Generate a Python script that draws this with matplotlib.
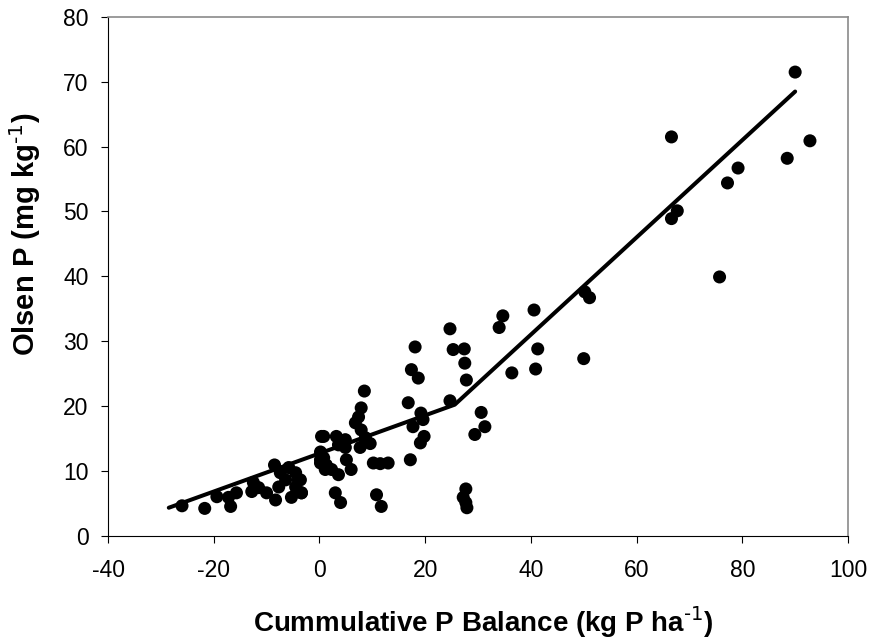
import matplotlib
matplotlib.use("Agg")
import matplotlib.pyplot as plt

plt.rcParams['font.family'] = ['Liberation Sans', 'DejaVu Sans']
plt.rcParams['axes.unicode_minus'] = False

# observed points: cumulative P balance (kg P/ha) vs Olsen P (mg/kg)
balance = [
    90.0, 92.8, 88.5, 79.2, 77.2, 66.6, 67.7, 66.6, 75.7, 50.2, 51.1,
    24.7, 34.7, 34.0, 40.6, 25.3, 27.4, 27.5, 27.8, 41.3, 40.9, 36.4, 50.0,
    24.7, 30.6, 31.3, 29.4, 27.7, 27.2, 27.7, 27.9,
    18.1, 17.4, 18.7, 16.8, 19.2, 19.6, 17.7, 19.8, 19.1, 17.2,
    8.5, 7.9, 7.4, 6.8, 7.9, 8.7, 9.6, 7.7,
    0.8, 3.2, 4.9, 3.6, 4.9, 0.2, 1.3, 2.3, 3.6, 5.1, 6.0,
    10.2, 11.5, 13.0, -3.6, -3.4, 3.0, 4.0, 10.8, 11.7,
    -26.0, -21.7, -19.4, -16.8, -17.2, -15.7, -12.8, -12.5, -11.5, -10.0, -8.3,
    -8.5, -7.4, -6.4, -7.7, -5.8, -4.5, -4.0, -4.5, -5.3, -3.4,
    0.4, 0.2, 0.2, 1.1, 0.8,
]
olsen = [
    71.5, 60.9, 58.2, 56.7, 54.4, 61.5, 50.1, 48.9, 39.9, 37.6, 36.7,
    31.9, 33.9, 32.1, 34.8, 28.7, 28.8, 26.6, 24.0, 28.8, 25.7, 25.1, 27.3,
    20.8, 19.0, 16.8, 15.6, 7.2, 5.9, 5.1, 4.3,
    29.1, 25.6, 24.3, 20.5, 18.9, 17.9, 16.8, 15.3, 14.3, 11.7,
    22.3, 19.7, 18.3, 17.4, 16.3, 15.1, 14.2, 13.6,
    15.3, 15.3, 14.8, 14.0, 13.6, 11.7, 10.9, 10.2, 9.4, 11.7, 10.2,
    11.2, 11.1, 11.2, 8.6, 6.6, 6.6, 5.1, 6.3, 4.5,
    4.6, 4.2, 6.0, 4.5, 5.9, 6.6, 6.8, 8.2, 7.4, 6.6, 5.5,
    10.9, 9.7, 8.6, 7.5, 10.5, 9.7, 8.6, 7.5, 5.9, 6.6,
    15.3, 12.9, 11.2, 10.2, 12.0,
]

# fitted segmented (split-line) model
fit_x = [-28.5, 25.6, 90.0]
fit_y = [4.3, 20.2, 68.5]

fig = plt.figure(figsize=(8.71, 6.43), dpi=100)
ax = fig.add_axes([0.124, 0.167, 0.8496, 0.8066])

ax.plot(fit_x, fit_y, color='black', lw=2.9, solid_capstyle='round', zorder=2)
ax.scatter(balance, olsen, s=88, color='black', edgecolors='none', zorder=3)

ax.set_xlim(-40, 100)
ax.set_ylim(0, 80)
ax.set_xticks(range(-40, 101, 20))
ax.set_yticks(range(0, 81, 10))
for side in ['top', 'right']:
    ax.spines[side].set_color('#8a8a8a')
    ax.spines[side].set_linewidth(1.2)
ax.tick_params(direction='out', length=5, labelsize=16.5)
ax.tick_params(axis='x', pad=12)
ax.tick_params(axis='y', pad=9)

ax.set_xlabel('Cummulative P Balance (kg P ha$^{\\text{-1}}$)',
              fontsize=20, fontweight='bold')
ax.set_ylabel('Olsen P (mg kg$^{\\text{-1}}$)',
              fontsize=21, fontweight='bold')
ax.xaxis.set_label_coords(0.507, -0.132)
ax.yaxis.set_label_coords(-0.088, 0.582)

fig.savefig('out.png', dpi=100)
